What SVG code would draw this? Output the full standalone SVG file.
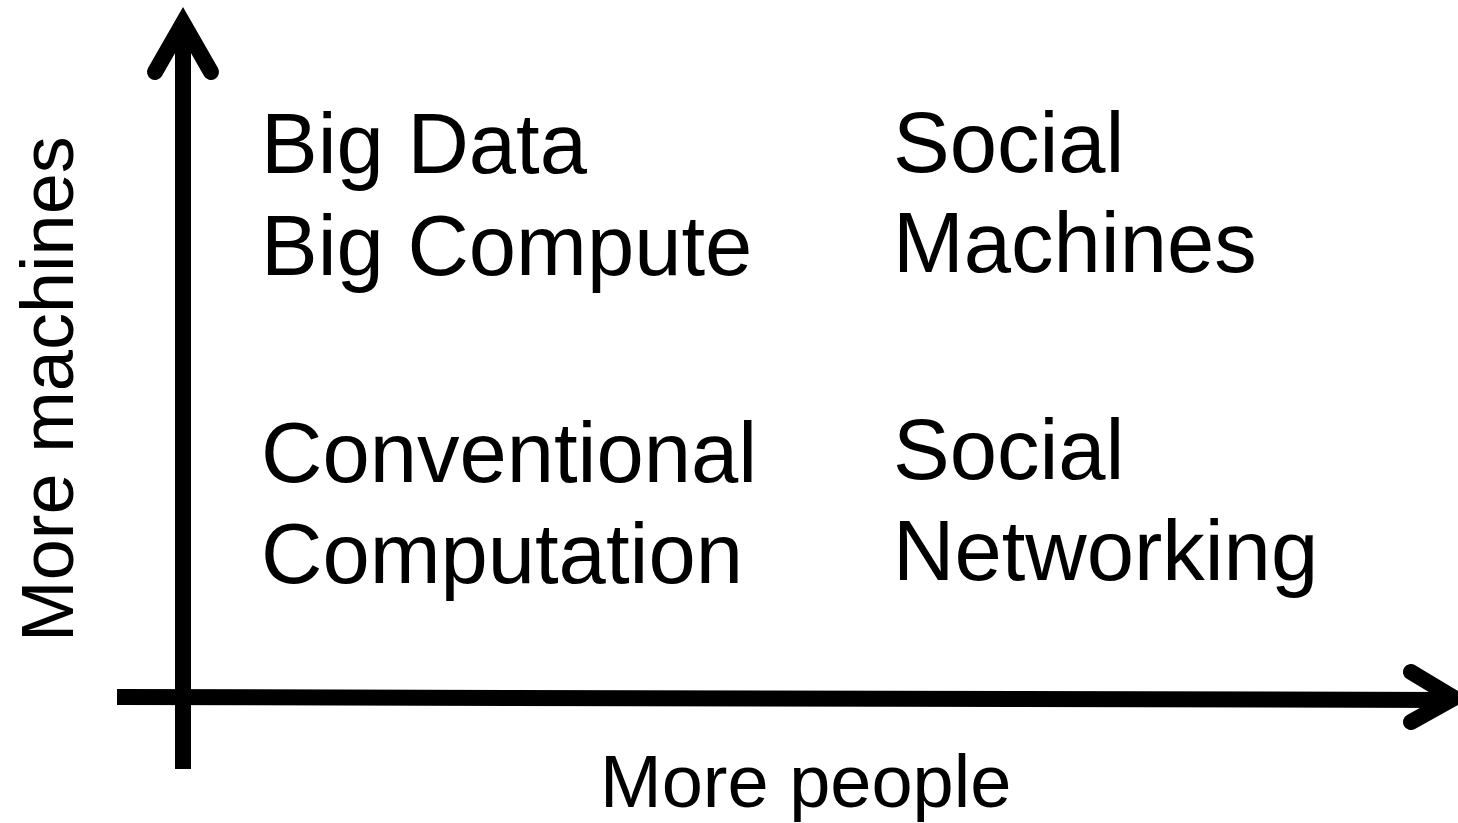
<svg xmlns="http://www.w3.org/2000/svg" width="1458" height="823" viewBox="0 0 1458 823">
<style>
.ax{fill:none;stroke:#000;stroke-width:16}
.hd{fill:none;stroke:#000;stroke-width:16;stroke-linecap:round;stroke-linejoin:miter;stroke-miterlimit:6}
.t{font-family:"Liberation Sans",Arial,sans-serif;font-size:85px;fill:#000}
.a{font-family:"Liberation Sans",Arial,sans-serif;font-size:74px;fill:#000}
</style>
<rect width="1458" height="823" fill="#fff"/>
<g id="connectors">
<line class="ax" x1="183" y1="769" x2="183" y2="24"/>
<polyline class="hd" points="155,72 183,23 211,72"/>
<line class="ax" x1="117" y1="697" x2="1452" y2="700"/>
<polyline class="hd" points="1411,672 1454,698 1411,722"/>
</g>
<g id="ylabel"><text class="a" transform="translate(73,642) rotate(-90)">More machines</text></g>
<g id="xlabel"><text class="a" x="600" y="807">More people</text></g>
<g id="bigdata"><text class="t" x="261" y="173">Big Data</text><text class="t" x="261" y="275">Big Compute</text></g>
<g id="socialmachines"><text class="t" x="893" y="172">Social</text><text class="t" x="893" y="272">Machines</text></g>
<g id="conventional"><text class="t" x="261" y="482">Conventional</text><text class="t" x="261" y="583">Computation</text></g>
<g id="socialnetworking"><text class="t" x="893" y="479">Social</text><text class="t" x="893" y="580">Networking</text></g>
</svg>
